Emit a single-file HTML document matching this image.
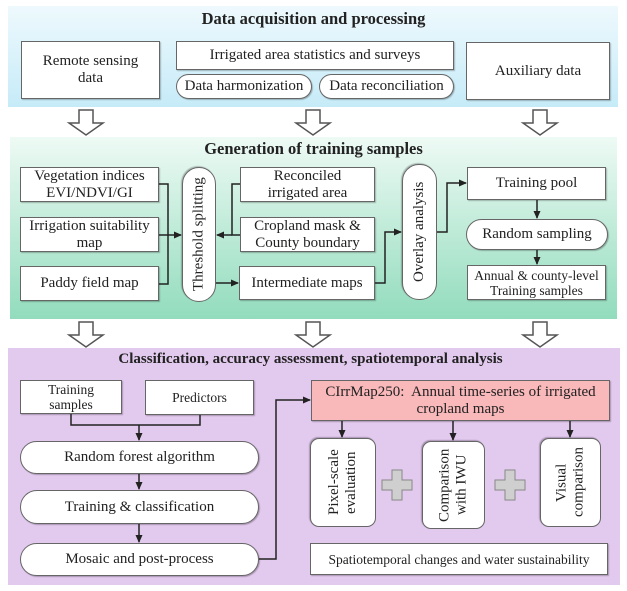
<!DOCTYPE html>
<html><head><meta charset="utf-8"><style>
*{box-sizing:border-box;margin:0;padding:0}
body{width:627px;height:591px;background:#fff;position:relative;overflow:hidden;font-family:"Liberation Serif",serif;color:#222}
.p{position:absolute}
.b{position:absolute;background:#fff;border:1.5px solid #666;box-shadow:1px 1px 1px rgba(0,0,0,.25);display:flex;align-items:center;justify-content:center;text-align:center;font-size:15px;line-height:17px;white-space:nowrap}
.pill{border-radius:14px}
.v{writing-mode:vertical-rl;transform:rotate(180deg)}
.t{position:absolute;font-weight:bold;font-size:16.5px;text-align:center;width:100%}
svg{position:absolute;left:0;top:0}
</style></head><body>
<div class="p" style="left:8px;top:6px;width:610px;height:101px;background:linear-gradient(#eef9fd,#c6ebf8)"></div>
<div class="p" style="left:10px;top:137px;width:607px;height:182px;background:linear-gradient(#eefaf5,#92dcbd)"></div>
<div class="p" style="left:8px;top:348px;width:612px;height:237px;background:#e2c9ee"></div>
<div class="t" style="top:9px;left:0">Data acquisition and processing</div>
<div class="t" style="top:139px;left:0">Generation of training samples</div>
<div class="t" style="top:351px;left:-3px;font-size:15px">Classification, accuracy assessment, spatiotemporal analysis</div>

<div class="b" style="left:21px;top:41px;width:139px;height:58px">Remote sensing<br>data</div>
<div class="b" style="left:176px;top:41px;width:278px;height:29px">Irrigated area statistics and surveys</div>
<div class="b pill" style="left:176px;top:74px;width:136px;height:25px">Data harmonization</div>
<div class="b pill" style="left:319px;top:74px;width:135px;height:25px">Data reconciliation</div>
<div class="b" style="left:466px;top:42px;width:144px;height:58px">Auxiliary data</div>

<div class="b" style="left:20px;top:167px;width:139px;height:35px">Vegetation indices<br>EVI/NDVI/GI</div>
<div class="b" style="left:20px;top:217px;width:139px;height:35px">Irrigation suitability<br>map</div>
<div class="b" style="left:20px;top:266px;width:139px;height:35px">Paddy field map</div>
<div class="b pill v" style="left:182px;top:167px;width:34px;height:135px;border-radius:17px">Threshold splitting</div>
<div class="b" style="left:240px;top:167px;width:135px;height:35px">Reconciled<br>irrigated area</div>
<div class="b" style="left:240px;top:217px;width:135px;height:35px">Cropland mask &amp;<br>County boundary</div>
<div class="b" style="left:239px;top:266px;width:136px;height:34px">Intermediate maps</div>
<div class="b pill v" style="left:402px;top:164px;width:35px;height:136px;border-radius:17px">Overlay analysis</div>
<div class="b" style="left:467px;top:167px;width:139px;height:33px">Training pool</div>
<div class="b pill" style="left:466px;top:219px;width:142px;height:31px;border-radius:16px">Random sampling</div>
<div class="b" style="left:467px;top:265px;width:139px;height:35px;font-size:13.5px;line-height:15px">Annual &amp; county-level<br>Training samples</div>

<div class="b" style="left:20px;top:380px;width:102px;height:34px;font-size:13.5px;line-height:15px">Training<br>samples</div>
<div class="b" style="left:145px;top:380px;width:109px;height:35px;font-size:13.5px">Predictors</div>
<div class="b pill" style="left:20px;top:441px;width:239px;height:33px;border-radius:17px">Random forest algorithm</div>
<div class="b pill" style="left:20px;top:490px;width:239px;height:34px;border-radius:17px">Training &amp; classification</div>
<div class="b pill" style="left:20px;top:543px;width:239px;height:33px;border-radius:17px">Mosaic and post-process</div>
<div class="b" style="left:311px;top:380px;width:299px;height:41px;background:#f9b8ba">CIrrMap250:&nbsp; Annual time-series of irrigated<br>cropland maps</div>
<div class="b v" style="left:310px;top:438px;width:66px;height:89px;border-radius:9px">Pixel-scale<br>evaluation</div>
<div class="b v" style="left:422px;top:441px;width:63px;height:88px;border-radius:9px">Comparison<br>with IWU</div>
<div class="b v" style="left:540px;top:438px;width:61px;height:89px;border-radius:9px">Visual<br>comparison</div>
<div class="b" style="left:310px;top:543px;width:298px;height:32px;font-size:13.5px">Spatiotemporal changes and water sustainability</div>

<svg width="627" height="591" viewBox="0 0 627 591">
<defs><marker id="a" markerWidth="8" markerHeight="8" refX="7" refY="4" orient="auto" markerUnits="userSpaceOnUse"><path d="M0,0.5 L8,4 L0,7.5z" fill="#222"/></marker>
<g id="h"><path d="M-7,0 H7 V13 H17 L0,25 L-17,13 H-7 Z" fill="#fff" stroke="#555" stroke-width="1.5"/></g>
<g id="pl"><path d="M-5,-15 H5 V-5 H15 V5 H5 V15 H-5 V5 H-15 V-5 H-5 Z" fill="#cfcfcf" stroke="#888" stroke-width="1"/></g></defs>
<use href="#h" x="86" y="110"/><use href="#h" x="313" y="110"/><use href="#h" x="540" y="110"/>
<use href="#h" x="86" y="322"/><use href="#h" x="313" y="322"/><use href="#h" x="540" y="322"/>
<g fill="none" stroke="#222" stroke-width="1.5">
<path d="M159,184 H168 V284 H159 M159,235 H168"/>
<path d="M168,235 H181" marker-end="url(#a)"/>
<path d="M240,184 H232 V235 H240"/>
<path d="M232,235 H217" marker-end="url(#a)"/>
<path d="M216,283 H238" marker-end="url(#a)"/>
<path d="M375,283 H385 V232 H401" marker-end="url(#a)"/>
<path d="M437,232 H447 V183 H466" marker-end="url(#a)"/>
<path d="M537,200 V218" marker-end="url(#a)"/>
<path d="M537,250 V264" marker-end="url(#a)"/>
<path d="M71,414 V425 H200 V415"/>
<path d="M139,425 V440" marker-end="url(#a)"/>
<path d="M139,474 V489" marker-end="url(#a)"/>
<path d="M139,524 V542" marker-end="url(#a)"/>
<path d="M259,559 H276 V400 H310" marker-end="url(#a)"/>
<path d="M342,421 V437" marker-end="url(#a)"/>
<path d="M453,421 V440" marker-end="url(#a)"/>
<path d="M570,421 V437" marker-end="url(#a)"/>
</g>
<use href="#pl" x="397" y="485"/><use href="#pl" x="510" y="485"/>
</svg>
</body></html>
